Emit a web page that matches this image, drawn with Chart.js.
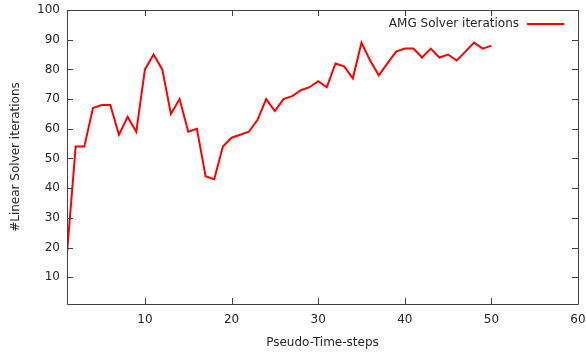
<!DOCTYPE html>
<html lang="en">
  <head>
    <meta charset="UTF-8" />
    <title>AMG Solver iterations</title>
    <script src="https://cdn.jsdelivr.net/npm/chart.js"></script>
    <style>
      html, body { margin: 0; padding: 0; background: #fff; }
      #wrap { width: 586px; height: 354px; }
    </style>
  </head>
  <body>
    <div id="wrap"><canvas id="lineChart" width="586" height="354"></canvas></div>

    <script>
      // Data
      const steps = [1, 2, 3, 4, 5, 6, 7, 8, 9, 10, 11, 12, 13, 14, 15, 16, 17, 18, 19, 20, 21, 22, 23, 24, 25,
        26, 27, 28, 29, 30, 31, 32, 33, 34, 35, 36, 37, 38, 39, 40, 41, 42, 43, 44, 45, 46, 47, 48, 49, 50];
      const iterations = [18, 54, 54, 67, 68, 68, 58, 64, 59, 80, 85, 80, 65, 70, 59, 60, 44, 43, 54, 57, 58, 59, 63, 70, 66,
        70, 71, 73, 74, 76, 74, 82, 81, 77, 89, 83, 78, 82, 86, 87, 87, 84, 87, 84, 85, 83, 86, 89, 87, 88];
      const xTicks = [10, 20, 30, 40, 50, 60];
      const yTicks = [10, 20, 30, 40, 50, 60, 70, 80, 90, 100];

      const FONT = "DejaVu Sans";
      const INK = "#262626";
      const FRAME = "#404040";

      // frame, inward ticks on all four sides, and gnuplot-style legend
      const framePlugin = {
        id: "frame",
        afterDatasetsDraw(chart) {
          const { ctx, chartArea: a, scales } = chart;
          const len = 6;
          ctx.save();
          ctx.strokeStyle = FRAME;
          ctx.lineWidth = 1;
          ctx.beginPath();
          ctx.rect(Math.round(a.left) + 0.5, Math.round(a.top) + 0.5,
            Math.round(a.right - a.left), Math.round(a.bottom - a.top));
          xTicks.forEach((v) => {
            const x = Math.round(scales.x.getPixelForValue(v)) + 0.5;
            ctx.moveTo(x, a.bottom); ctx.lineTo(x, a.bottom - len);
            ctx.moveTo(x, a.top); ctx.lineTo(x, a.top + len);
          });
          yTicks.forEach((v) => {
            const y = Math.round(scales.y.getPixelForValue(v)) + 0.5;
            ctx.moveTo(a.left, y); ctx.lineTo(a.left + len, y);
            ctx.moveTo(a.right, y); ctx.lineTo(a.right - len, y);
          });
          ctx.stroke();

          // legend: text, then line sample
          const ds = chart.data.datasets[0];
          const ly = a.top + 14;
          const lineEnd = a.right - 14;
          const lineStart = lineEnd - 37;
          ctx.font = "12px '" + FONT + "'";
          ctx.fillStyle = INK;
          ctx.textAlign = "right";
          ctx.textBaseline = "middle";
          ctx.fillText(ds.label, lineStart - 8, ly);
          ctx.strokeStyle = ds.borderColor;
          ctx.lineWidth = 2;
          ctx.beginPath();
          ctx.moveTo(lineStart, ly);
          ctx.lineTo(lineEnd, ly);
          ctx.stroke();
          ctx.restore();
        },
      };

      const ctx = document.getElementById("lineChart").getContext("2d");
      new Chart(ctx, {
        type: "line",
        data: {
          datasets: [
            {
              label: "AMG Solver iterations",
              data: steps.map((s, i) => ({ x: s, y: iterations[i] })),
              borderColor: "#ff0000",
              borderWidth: 2,
              pointRadius: 0,
              tension: 0,
              fill: false,
            },
          ],
        },
        options: {
          responsive: false,
          animation: false,
          layout: { padding: { top: 10, right: 8, left: 0, bottom: 0 } },
          plugins: {
            legend: { display: false },
            tooltip: { enabled: false },
          },
          scales: {
            x: {
              type: "linear",
              min: 1,
              max: 60,
              afterBuildTicks: (s) => { s.ticks = xTicks.map((v) => ({ value: v })); },
              afterFit: (s) => {
                s.height = 50;
                s.paddingLeft = 0;
                s.paddingRight = 0;
              },
              grid: { display: false, drawTicks: false },
              border: { display: false },
              ticks: {
                padding: 9,
                maxRotation: 0,
                color: INK,
                font: { family: FONT, size: 12 },
              },
              title: {
                display: true,
                text: "Pseudo-Time-steps",
                color: INK,
                font: { family: FONT, size: 12 },
                padding: { top: 0, bottom: 4 },
              },
            },
            y: {
              min: 1,
              max: 100,
              afterBuildTicks: (s) => { s.ticks = yTicks.map((v) => ({ value: v })); },
              afterFit: (s) => {
                s.width = 67;
                s.paddingTop = 0;
                s.paddingBottom = 0;
              },
              grid: { display: false, drawTicks: false },
              border: { display: false },
              ticks: {
                padding: 7,
                color: INK,
                font: { family: FONT, size: 12 },
              },
              title: {
                display: true,
                text: "#Linear Solver iterations",
                color: INK,
                font: { family: FONT, size: 12 },
                padding: { top: 9, bottom: 0 },
              },
            },
          },
        },
        plugins: [framePlugin],
      });
    </script>
  </body>
</html>
